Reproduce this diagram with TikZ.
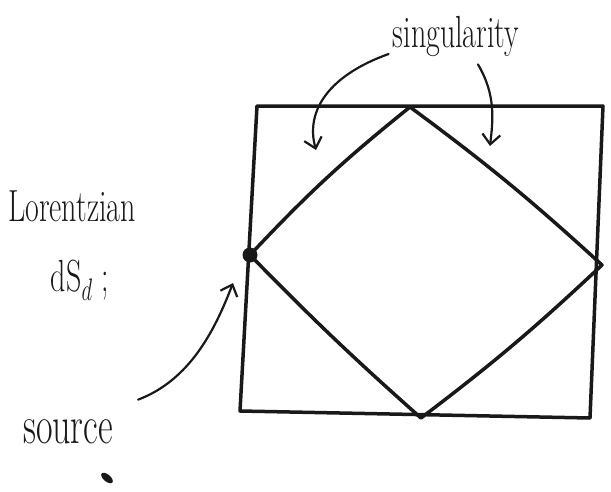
\documentclass[tikz,border=0pt]{standalone}
\usetikzlibrary{arrows.meta}
\newcommand{\tallx}[1]{\scalebox{1}[1.5]{#1}}
\begin{document}
\begin{tikzpicture}[x=1pt,y=-1pt,
  ink/.style={line width=3.5pt,line cap=round,line join=round,black!90},
  pen/.style={line width=2.2pt,line cap=round,black!90,-{Straight Barb[length=10pt,width=18pt,line width=2.2pt]}},
  lbl/.style={font=\fontsize{30}{32}\selectfont,text=black!90,inner sep=0pt}]
\useasboundingbox (0,0) rectangle (611,491);
% box corners
\coordinate (tl) at (257,106);
\coordinate (tr) at (603,106);
\coordinate (br) at (590,418);
\coordinate (bl) at (240,411);
% diamond vertices
\coordinate (dt) at (410,107);
\coordinate (dr) at (602,265);
\coordinate (db) at (421,418);
\coordinate (dl) at (250,255);
\draw[ink] (tl) -- (tr) -- (br) -- (bl) -- cycle;
\draw[ink] (dl) to[bend left=4] (dt) to[bend left=3] (dr) to[bend left=3] (db) to[bend left=2] (dl);
\fill[black!90] (dl) circle (7.5);
% labels
\node[lbl] (sing) at (456,36) {\tallx{singularity}};
\node[lbl] (lor) at (72,206) {\tallx{Lorentzian}};
\node[lbl] (ds) at (80,280) {\tallx{dS$_d$ ;}};
\node[lbl,font=\fontsize{36}{38}\selectfont] (src) at (68,432) {\tallx{source}};
\fill[black!90,rotate around={50:(107,478)}] (107,478) ellipse (3.5 and 7);
% arrow ends
\coordinate (a1) at (316,150);
\coordinate (a2) at (490,146);
\coordinate (a3) at (233,283);
\draw[pen] (sing.west) ++(-4,18) .. controls (330,75) and (305,110) .. (a1);
\draw[pen] (sing.south) ++(22,8) .. controls (496,95) and (493,120) .. (a2);
\draw[pen] (src.north east) ++(25,-20) .. controls (190,380) and (215,330) .. (a3);
\end{tikzpicture}
\end{document}
